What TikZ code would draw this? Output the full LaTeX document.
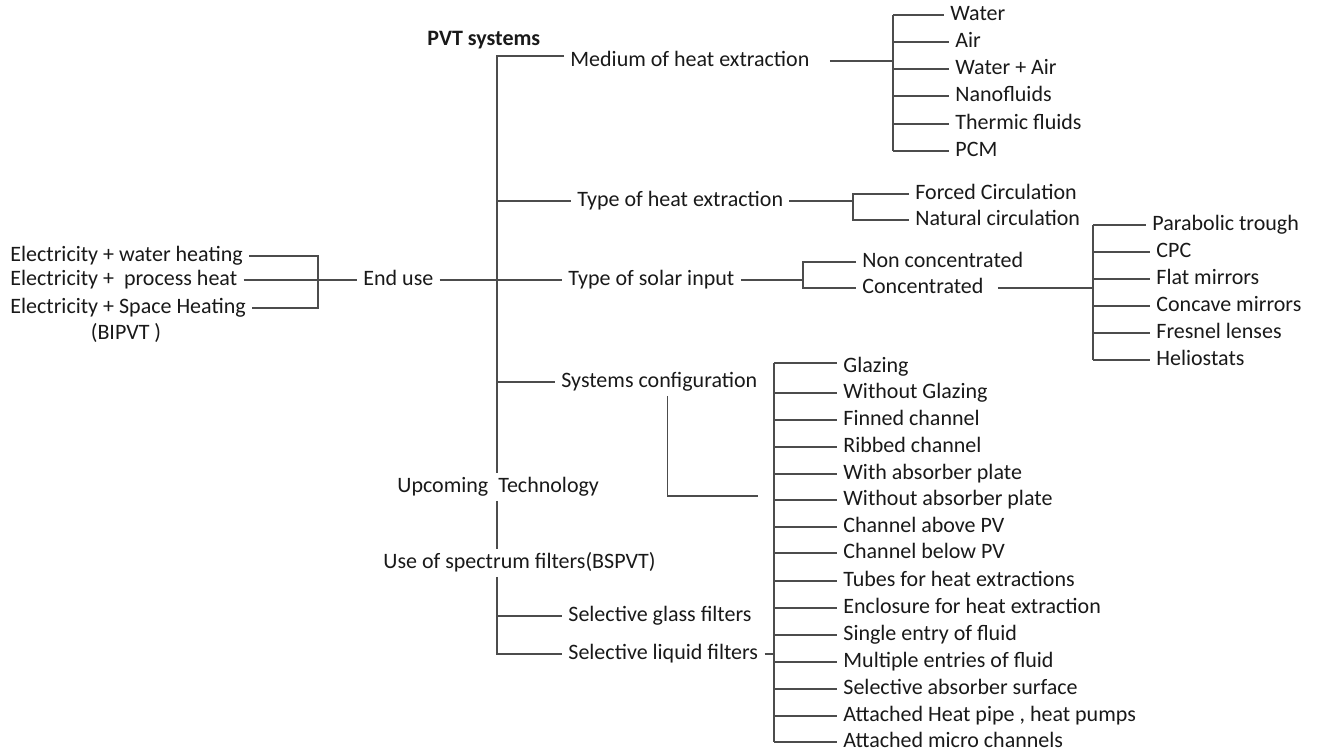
\documentclass[tikz,border=0pt]{standalone}
\usepackage{fontspec}
\setmainfont{Carlito}
\usetikzlibrary{positioning, calc}

\begin{document}
\begin{tikzpicture}[
    x=0.5pt, y=-0.5pt,
    every node/.style={font=\fontsize{11}{13}\selectfont, text=black!90},
    itembox/.style={anchor=west, inner xsep=3pt, inner ysep=1.5pt, text height=8pt, text depth=2.5pt},
    headbox/.style={itembox, font=\fontsize{11}{13}\selectfont\bfseries},
    wire/.style={draw=black!70, line width=0.8pt}
]
\useasboundingbox (0,0) rectangle (1318,753);

% Root, end use and the main branches
\node[headbox] (pvt) at (421,40) {PVT systems};
\node[itembox] (enduse) at (357,280) {End use};
\node[itembox] (elec1) at (4,256) {Electricity + water heating};
\node[itembox] (elec2) at (4,280) {Electricity +\ \ process heat};
\node[itembox] (elec3) at (4,308) {Electricity + Space Heating};
\node[itembox, anchor=center] (bipvt) at (126,334) {(BIPVT )};

\node[itembox] (medium) at (564,61) {Medium of heat extraction};
\node[itembox] (heatext) at (571,201) {Type of heat extraction};
\node[itembox] (solar) at (562,280) {Type of solar input};
\node[itembox] (config) at (555,382) {Systems configuration};
\node[itembox] (upcoming) at (391,487) {Upcoming\ \ Technology};
\node[itembox] (filters) at (377,563) {Use of spectrum filters(BSPVT)};
\node[itembox] (glass) at (562,616) {Selective glass filters};
\node[itembox] (liquid) at (562,654) {Selective liquid filters};

% Medium of heat extraction
\node[itembox] (water) at (944,15) {Water};
\node[itembox] (air) at (949,42) {Air};
\node[itembox] (waterair) at (949,69) {Water + Air};
\node[itembox] (nano) at (949,96) {Nanofluids};
\node[itembox] (thermic) at (949,124) {Thermic fluids};
\node[itembox] (pcm) at (949,151) {PCM};

% Type of heat extraction and solar input
\node[itembox] (forced) at (909,194) {Forced Circulation};
\node[itembox] (natural) at (909,220) {Natural circulation};
\node[itembox] (noncon) at (856,262) {Non concentrated};
\node[itembox] (conc) at (856,288) {Concentrated};

\node[itembox] (parabolic) at (1146,225) {Parabolic trough};
\node[itembox] (cpc) at (1150,252) {CPC};
\node[itembox] (flat) at (1150,279) {Flat mirrors};
\node[itembox] (concave) at (1150,306) {Concave mirrors};
\node[itembox] (fresnel) at (1150,333) {Fresnel lenses};
\node[itembox] (helio) at (1150,360) {Heliostats};

% Systems configuration
\node[itembox] (glazing) at (837,367) {Glazing};
\node[itembox] (noglazing) at (837,393) {Without Glazing};
\node[itembox] (finned) at (837,420) {Finned channel};
\node[itembox] (ribbed) at (837,447) {Ribbed channel};
\node[itembox] (withabs) at (837,474) {With absorber plate};
\node[itembox] (noabs) at (837,500) {Without absorber plate};
\node[itembox] (chabove) at (837,527) {Channel above PV};
\node[itembox] (chbelow) at (837,553) {Channel below PV};
\node[itembox] (tubes) at (837,581) {Tubes for heat extractions};
\node[itembox] (enclosure) at (837,608) {Enclosure for heat extraction};
\node[itembox] (single) at (837,635) {Single entry of fluid};
\node[itembox] (multiple) at (837,662) {Multiple entries of fluid};
\node[itembox] (selective) at (837,689) {Selective absorber surface};
\node[itembox] (heatpipe) at (837,716) {Attached Heat pipe , heat pumps};
\node[itembox] (micro) at (837,742) {Attached micro channels};

% Bus points
\coordinate (trunk) at (497,56);
\coordinate (lbus) at (318,250);
\coordinate (mbus) at (893,62);
\coordinate (hbus) at (853,206);
\coordinate (sbus) at (803,280);
\coordinate (cbus) at (1093,288);
\coordinate (xbus) at (774,363);
\coordinate (celbow) at (758,496);

% End use bracket
\draw[wire] (elec1.east) -- (elec1.east -| lbus) -- (elec3.east -| lbus) -- (elec3.east);
\draw[wire] (elec2.east) -- (enduse.west);
\draw[wire] (enduse.east) -- (solar.west);

% Trunk with gaps for the texts
\draw[wire] (trunk -| medium.west) -- (trunk) -- (trunk |- upcoming.north);
\draw[wire] (trunk |- upcoming.south) -- (trunk |- filters.north);
\draw[wire] (trunk |- filters.south) -- (trunk |- liquid) -- (liquid.west);
\draw[wire] (trunk |- heatext) -- (heatext.west)
            (trunk |- config) -- (config.west)
            (trunk |- glass) -- (glass.west);

% Medium list
\draw[wire, shorten <=7pt] (medium.east) -- (medium.east -| mbus);
\draw[wire] (mbus |- water) -- (mbus |- pcm);
\draw[wire] (mbus |- water) -- (water.west)
            (mbus |- air) -- (air.west)
            (mbus |- waterair) -- (waterair.west)
            (mbus |- nano) -- (nano.west)
            (mbus |- thermic) -- (thermic.west)
            (mbus |- pcm) -- (pcm.west);

% Heat extraction and solar input
\draw[wire] (heatext.east) -- (heatext.east -| hbus);
\draw[wire] (forced.west) -- (hbus |- forced) -- (hbus |- natural) -- (natural.west);
\draw[wire] (solar.east) -- (solar.east -| sbus);
\draw[wire] (noncon.west) -- (sbus |- noncon) -- (sbus |- conc) -- (conc.west);

% Concentrators
\draw[wire, shorten <=4pt] (conc.east) -- (conc.east -| cbus);
\draw[wire] (cbus |- parabolic) -- (cbus |- helio);
\draw[wire] (cbus |- parabolic) -- (parabolic.west)
            (cbus |- cpc) -- (cpc.west)
            (cbus |- flat) -- (flat.west)
            (cbus |- concave) -- (concave.west)
            (cbus |- fresnel) -- (fresnel.west)
            (cbus |- helio) -- (helio.west);

% Configuration list
\draw[wire] ([xshift=4pt]config.south) |- (celbow);
\draw[wire] (liquid.east) -- (liquid.east -| xbus);
\draw[wire] (xbus) -- (xbus |- micro);
\draw[wire] (xbus) -- (xbus -| glazing.west)
            (xbus |- noglazing) -- (noglazing.west)
            (xbus |- finned) -- (finned.west)
            (xbus |- ribbed) -- (ribbed.west)
            (xbus |- withabs) -- (withabs.west)
            (xbus |- noabs) -- (noabs.west)
            (xbus |- chabove) -- (chabove.west)
            (xbus |- chbelow) -- (chbelow.west)
            (xbus |- tubes) -- (tubes.west)
            (xbus |- enclosure) -- (enclosure.west)
            (xbus |- single) -- (single.west)
            (xbus |- multiple) -- (multiple.west)
            (xbus |- selective) -- (selective.west)
            (xbus |- heatpipe) -- (heatpipe.west)
            (xbus |- micro) -- (micro.west);

\end{tikzpicture}
\end{document}
